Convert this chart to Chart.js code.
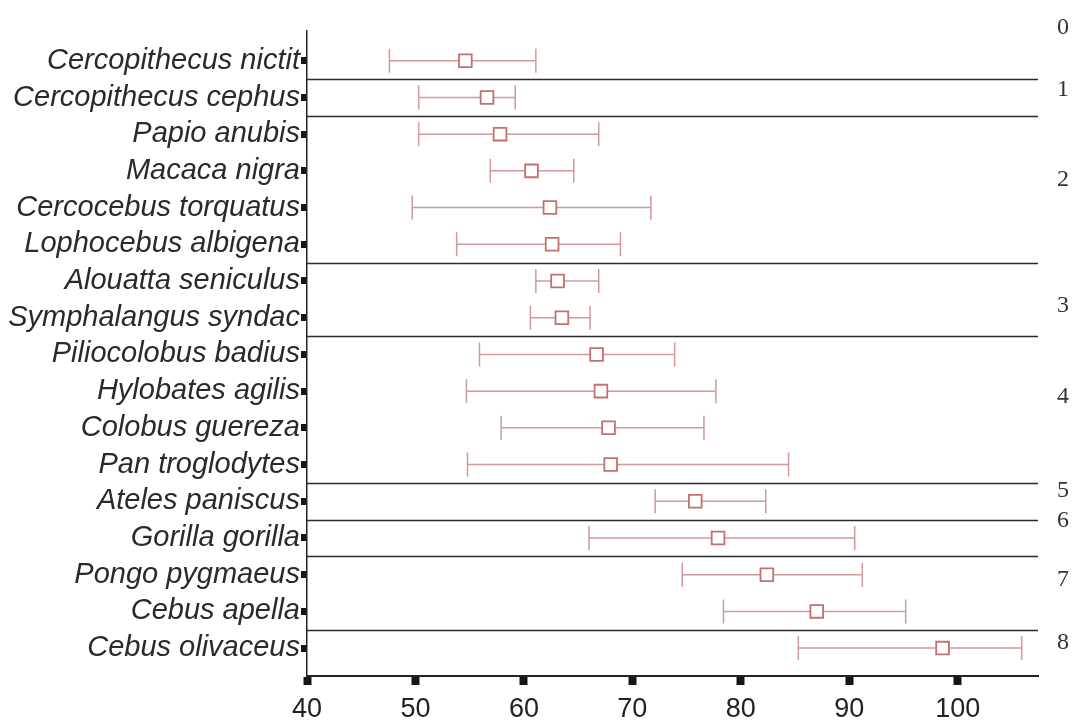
<!DOCTYPE html>
<html>
<head>
<meta charset="utf-8">
<script src="https://cdn.jsdelivr.net/npm/chart.js@4.4.1/dist/chart.umd.min.js"></script>
<style>
  html, body { margin: 0; padding: 0; background: #fff; }
  #wrap { width: 1073px; height: 721px; position: relative; }
</style>
</head>
<body>
<div id="wrap"><canvas id="rangeChart"></canvas></div>
<script>
const species = [
  "Cercopithecus nictit",
  "Cercopithecus cephus",
  "Papio anubis",
  "Macaca nigra",
  "Cercocebus torquatus",
  "Lophocebus albigena",
  "Alouatta seniculus",
  "Symphalangus syndac",
  "Piliocolobus badius",
  "Hylobates agilis",
  "Colobus guereza",
  "Pan troglodytes",
  "Ateles paniscus",
  "Gorilla gorilla",
  "Pongo pygmaeus",
  "Cebus apella",
  "Cebus olivaceus"
];
const meanValues = [54.6, 56.6, 57.8, 60.7, 62.4, 62.6, 63.1, 63.5, 66.7, 67.1, 67.8, 68.0, 75.8, 77.9, 82.4, 87.0, 98.6];
const lowValues  = [47.6, 50.3, 50.3, 56.9, 49.7, 53.8, 61.1, 60.6, 55.9, 54.7, 57.9, 54.8, 72.1, 66.0, 74.6, 78.4, 85.3];
const highValues = [61.1, 59.2, 66.9, 64.6, 71.7, 68.9, 66.9, 66.1, 73.9, 77.7, 76.6, 84.4, 82.3, 90.5, 91.2, 95.2, 105.9];

const xTicks = [40, 50, 60, 70, 80, 90, 100];

// group boundaries fall between rows; numbers sit on the right margin
const groupBreaks = [0.5, 1.5, 5.5, 7.5, 11.5, 12.5, 13.5, 15.5];
const groupLabels = ["0", "1", "2", "3", "4", "5", "6", "7", "8"];
const groupLabelRows = [-0.9, 0.8, 3.25, 6.66, 9.16, 11.7, 12.52, 14.15, 15.84];

const whiskerColor = "#d29a9a";
const markerColor = "#c27070";

const errorBars = {
  id: "errorBars",
  beforeDatasetsDraw(chart) {
    const { ctx, scales: { x, y } } = chart;
    ctx.save();
    ctx.strokeStyle = whiskerColor;
    ctx.lineWidth = 1.5;
    species.forEach((_, i) => {
      const py = y.getPixelForValue(i);
      const x0 = x.getPixelForValue(lowValues[i]);
      const x1 = x.getPixelForValue(highValues[i]);
      ctx.beginPath();
      ctx.moveTo(x0, py);
      ctx.lineTo(x1, py);
      ctx.moveTo(x0, py - 12);
      ctx.lineTo(x0, py + 12);
      ctx.moveTo(x1, py - 12);
      ctx.lineTo(x1, py + 12);
      ctx.stroke();
    });
    ctx.restore();
  }
};

const groups = {
  id: "groups",
  beforeDatasetsDraw(chart) {
    const { ctx, chartArea, scales: { y } } = chart;
    ctx.save();
    ctx.strokeStyle = "#2b2b2b";
    ctx.lineWidth = 1.6;
    groupBreaks.forEach(b => {
      const py = Math.round(y.getPixelForValue(b)) + 0.5;
      ctx.beginPath();
      ctx.moveTo(chartArea.left, py);
      ctx.lineTo(chartArea.right, py);
      ctx.stroke();
    });
    ctx.restore();
  },
  afterDraw(chart) {
    const { ctx, chartArea, scales: { y } } = chart;
    ctx.save();
    ctx.fillStyle = "#333";
    ctx.font = "24px 'Liberation Serif'";
    ctx.textAlign = "center";
    ctx.textBaseline = "middle";
    groupLabels.forEach((g, i) => {
      ctx.fillText(g, chartArea.right + 25, y.getPixelForValue(groupLabelRows[i]));
    });
    ctx.restore();
  }
};

const ctx = document.getElementById("rangeChart").getContext("2d");

const rangeChart = new Chart(ctx, {
  type: "scatter",
  data: {
    datasets: [
      {
        label: "mean",
        data: meanValues.map((m, i) => ({ x: m, y: i })),
        pointStyle: "rect",
        pointRadius: 9,
        pointHoverRadius: 9,
        borderWidth: 1.8,
        borderColor: markerColor,
        backgroundColor: "#fff",
      },
    ],
  },
  options: {
    responsive: true,
    maintainAspectRatio: false,
    animation: false,
    layout: {
      padding: { top: 31, right: 35, left: 0, bottom: 0 }
    },
    plugins: {
      legend: { display: false },
      tooltip: { enabled: false },
    },
    scales: {
      x: {
        type: "linear",
        min: 40,
        max: 107.4,
        afterBuildTicks(scale) {
          scale.ticks = xTicks.map(v => ({ value: v }));
        },
        afterFit(scale) {
          scale.height = 45;
        },
        grid: {
          drawOnChartArea: false,
          tickLength: 9,
          tickWidth: 8,
          tickColor: "#161616",
        },
        border: { color: "#222", width: 2 },
        ticks: {
          padding: 8,
          color: "#222",
          font: { family: "'Liberation Sans'", size: 27 },
        },
      },
      y: {
        type: "linear",
        reverse: true,
        min: -0.81,
        max: 16.76,
        afterBuildTicks(scale) {
          scale.ticks = species.map((_, i) => ({ value: i }));
        },
        afterFit(scale) {
          scale.width = 307;
        },
        grid: {
          drawOnChartArea: false,
          tickLength: 6,
          tickWidth: 7,
          tickColor: "#161616",
        },
        border: { color: "#222", width: 1.5 },
        ticks: {
          padding: 1,
          color: "#2a2a2a",
          font: { family: "'Liberation Sans'", size: 29, style: "italic" },
          callback: function(value) {
            return species[value];
          },
        },
      },
    },
  },
  plugins: [errorBars, groups],
});
</script>
</body>
</html>
